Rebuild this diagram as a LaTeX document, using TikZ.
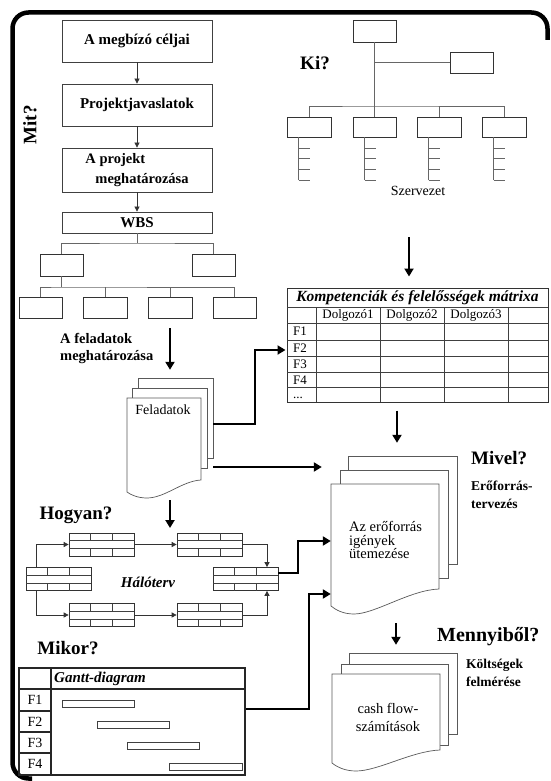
\documentclass[tikz,border=0pt]{standalone}
\usepackage{fontspec}
\setmainfont{Liberation Serif}
\usetikzlibrary{arrows.meta,calc}
\newcommand\fsz[2]{\fontsize{#1}{#2}\selectfont}
\newcommand\netnode[3]{\node[netbox] (#1) at (#2,#3) {};
 \draw[tline] (#2-32.5,#3-4) -- (#2+32.5,#3-4) (#2-32.5,#3+4) -- (#2+32.5,#3+4)
   (#2-11,#3-11.5) -- (#2-11,#3-4) (#2+11,#3-11.5) -- (#2+11,#3-4)
   (#2-11,#3+4) -- (#2-11,#3+11.5) (#2+11,#3+4) -- (#2+11,#3+11.5);}
\begin{document}
\begin{tikzpicture}[x=1pt,y=-1pt,
  bx/.style={draw=black!75, line width=0.8pt, fill=white, inner sep=0pt, font=\fsz{15}{18}\bfseries},
  obox/.style={draw=black!80, line width=0.7pt, fill=white, inner sep=0pt},
  orgline/.style={draw=black!60, line width=0.8pt},
  tline/.style={draw=black!75, line width=0.7pt},
  thinarr/.style={draw=black!80, line width=0.7pt, -{Triangle[length=5pt,width=5pt]}},
  bigarr/.style={draw=black, line width=2.6pt, -{Triangle[length=8pt,width=9pt]}},
  question/.style={font=\fsz{19}{22}\bfseries, inner sep=0pt},
  side/.style={font=\fsz{13.5}{18}\bfseries, align=left, inner sep=0pt},
  docline/.style={draw=black!65, line width=0.7pt},
  ghost/.style={inner sep=0pt, draw=none},
  netbox/.style={draw=black!80, line width=0.7pt, fill=white, minimum width=65pt, minimum height=23pt, inner sep=0pt},
  plain/.style={inner sep=0pt, font=\fsz{13}{15}},
]
\useasboundingbox (0,0) rectangle (550,781);
% frame
\draw[line width=4.5pt, rounded corners=16pt] (32,778.5) -- (12.5,778.5) -- (12.5,12.5) -- (547.5,12.5) -- (547.5,40);

% ---------- left column ----------
\node[question, rotate=90] (mit) at (30,125) {Mit?};
\node[bx, minimum width=150pt, minimum height=42pt] (g1) at (137,41) {A megbízó céljai};
\node[bx, minimum width=150pt, minimum height=42pt] (g2) at (137,105) {Projektjavaslatok};
\node[bx, minimum width=150pt, minimum height=44pt, align=left, font=\fsz{14.5}{20}\bfseries] (g3) at (137,170) {A projekt\\\hspace*{10pt}meghatározása};
\node[bx, minimum width=150pt, minimum height=21pt] (wbs) at (137,222.5) {WBS};
\draw[thinarr] (g1) -- (g2);
\draw[thinarr] (g2) -- (g3);
\draw[thinarr] (g3) -- (wbs);

\node[obox, minimum width=43pt, minimum height=22pt] (w21) at (61.5,265) {};
\node[obox, minimum width=43pt, minimum height=22pt] (w22) at (213.5,265) {};
\node[obox, minimum width=43pt, minimum height=21pt] (w31) at (40.5,307.5) {};
\node[obox, minimum width=44pt, minimum height=21pt] (w32) at (105,307.5) {};
\node[obox, minimum width=44pt, minimum height=21pt] (w33) at (170,307.5) {};
\node[obox, minimum width=43pt, minimum height=21pt] (w34) at (234.5,307.5) {};
\coordinate (wj) at (137,243);
\coordinate (wk) at (61.5,287);
\draw[orgline] (wbs.south) -- (wj);
\draw[orgline] (w21.north) |- (wj) -| (w22.north);
\draw[orgline] (w21.south) -- (wk);
\draw[orgline] (w31.north) |- (wk) -| (w34.north);
\draw[orgline] (w32.north) -- (w32.north |- wk);
\draw[orgline] (w33.north) -- (w33.north |- wk);

\node[side, font=\fsz{14.5}{17}\bfseries, anchor=west] (fam) at (60,348.5) {A feladatok\\meghatározása};

% ---------- org chart ----------
\node[question] (ki) at (315,63) {Ki?};
\node[obox, minimum width=43pt, minimum height=22pt] (o0) at (374.5,31) {};
\node[obox, minimum width=43pt, minimum height=21pt] (o1) at (471.5,62.5) {};
\node[obox, minimum width=44pt, minimum height=20pt] (o21) at (309,127) {};
\node[obox, minimum width=43pt, minimum height=20pt] (o22) at (374.5,127) {};
\node[obox, minimum width=44pt, minimum height=20pt] (o23) at (439,127) {};
\node[obox, minimum width=44pt, minimum height=20pt] (o24) at (504,127) {};
\coordinate (oj) at (374.5,106);
\draw[orgline] (o0.south) -- (o22.north);
\draw[orgline] (o1.west) -- (o1.west -| o0.south);
\draw[orgline] (o21.north) |- (oj) -| (o24.north);
\draw[orgline] (o23.north) -- (o23.north |- oj);
\foreach \b in {o21,o22,o23,o24} {
  \draw[orgline] ([xshift=12pt]\b.south west) -- ++(0,43);
  \foreach \t in {11,21,32,43}
    \draw[orgline] ([xshift=12pt]\b.south west) ++(0,\t) -- ++(11,0);
}
\node[plain, font=\fsz{14}{16}] (szerv) at (418,191) {Szervezet};

% ---------- matrix ----------
\node[draw=black!80, line width=1pt, minimum width=261pt, minimum height=114pt, inner sep=0pt] (mat) at (417.5,345) {};
\node[inner sep=0pt, font=\fsz{15.5}{17}\bfseries\itshape] (mtitle) at (417.5,297.5) {Kompetenciák és felelősségek mátrixa};
\foreach \y in {307,323,340,356,372,387} \draw[tline] (287,\y) -- (548,\y);
\foreach \x in {316,380,444,508} \draw[tline] (\x,307) -- (\x,402);
\node[plain] (d1) at (348,315.5) {Dolgozó1};
\node[plain] (d2) at (412,315.5) {Dolgozó2};
\node[plain] (d3) at (476,315.5) {Dolgozó3};
\node[plain, anchor=west] (mf1) at (293,331.5) {F1};
\node[plain, anchor=west] (mf2) at (293,348) {F2};
\node[plain, anchor=west] (mf3) at (293,364) {F3};
\node[plain, anchor=west] (mf4) at (293,380) {F4};
\node[plain, anchor=west] (mf5) at (293,398) {...};

\coordinate (oa) at (409,237);
\draw[bigarr, shorten >=11pt] (oa) -- (mat.north -| oa);

% ---------- Feladatok document ----------
\node[ghost, minimum width=86pt, minimum height=120pt] (feldoc) at (170,438) {};
\fill[white] (138,378) rectangle (213,458);
\draw[docline] (138,388) -- (138,378) -- (213,378) -- (213,458) -- (207,458);
\fill[white] (132,388) rectangle (207,468);
\draw[docline] (132,398) -- (132,388) -- (207,388) -- (207,468) -- (201,468);
\draw[docline, fill=white] (127,398) -- (201,398) -- (201,480) .. controls (182,481) and (165,498) .. (147,498) .. controls (138,498) and (131,495) .. (127,492) -- cycle;
\node[plain, font=\fsz{14}{16}] (feltxt) at (163,410) {Feladatok};

\coordinate (fa) at (170,328);
\draw[bigarr, shorten >=8pt] (fa) -- (feldoc.north);

% ---------- resource document ----------
\node[ghost, minimum width=126pt, minimum height=158pt] (resdoc) at (394,535) {};
\fill[white] (348,456) rectangle (457,564);
\draw[docline] (348,470) -- (348,456) -- (457,456) -- (457,564) -- (448,564);
\fill[white] (340,470) rectangle (448,578);
\draw[docline] (340,484) -- (340,470) -- (448,470) -- (448,578) -- (439,578);
\draw[docline, fill=white] (331,484) -- (439,484) -- (439,589) .. controls (410,590) and (375,614) .. (354,614) .. controls (343,614) and (336,610) .. (331,606) -- cycle;
\node[plain, font=\fsz{14.5}{15.5}, anchor=west] (restxt) at (349,542) {\begin{tabular}{@{}l@{}}Az erőforrás\\[-2pt]igények\\[-2pt]ütemezése\end{tabular}};
\node[question, anchor=west] (mivel) at (471,458) {Mivel?};
\node[side, anchor=north west] (eroterv) at (471,481) {Erőforrás-\\tervezés};

\draw[bigarr, shorten <=8pt, shorten >=13pt] (mat.south -| 397,0) -- (resdoc.north -| 397,0);
\draw[bigarr, shorten >=1pt] (feldoc.east |- 0,424) -| (255,350) -- (mat.west |- 0,350);
\draw[bigarr, shorten >=9pt] (feldoc.east |- 0,467) -- (resdoc.west |- 0,467);
\draw[bigarr, shorten <=2pt] (feldoc.south) -- (170,528);

% ---------- network ----------
\node[question] (hogyan) at (76,515) {Hogyan?};
\netnode{nL}{58.5}{579}
\netnode{nT1}{101.5}{544.5}
\netnode{nT2}{209.5}{544.5}
\netnode{nR}{245.5}{579}
\netnode{nB1}{101.5}{615}
\netnode{nB2}{209.5}{615}
\node[inner sep=0pt, font=\fsz{15}{17}\bfseries\itshape] (halo) at (148,582) {Hálóterv};
\draw[thinarr] (nL.north -| 36,0) |- (nT1.west);
\draw[thinarr] (nL.south -| 36,0) |- (nB1.west);
\draw[thinarr] (nT1) -- (nT2);
\draw[thinarr] (nB1) -- (nB2);
\draw[thinarr] (nT2.east) -| (nR.north -| 267,0);
\draw[thinarr] (nB2.east) -| (nR.south -| 267,0);
\draw[bigarr] (nR.east |- 0,573) -| (298,541) -- (resdoc.west |- 0,541);

% ---------- cost document ----------
\node[ghost, minimum width=125pt, minimum height=118pt] (costdoc) at (394.5,712) {};
\fill[white] (349,653) rectangle (457,734);
\draw[docline] (349,664) -- (349,653) -- (457,653) -- (457,734) -- (448,734);
\fill[white] (341,664) rectangle (448,745);
\draw[docline] (341,674) -- (341,664) -- (448,664) -- (448,745) -- (440,745);
\draw[docline, fill=white] (332,674) -- (440,674) -- (440,750) .. controls (412,751) and (378,771) .. (356,771) .. controls (345,771) and (337,767) .. (332,763) -- cycle;
\node[plain, font=\fsz{14.5}{18}, align=center] (costtxt) at (388,717) {cash flow-\\számítások};
\node[question, font=\fsz{20}{22}\bfseries, anchor=west] (menny) at (437,637) {Mennyiből?};
\node[side, anchor=north west] (koltseg) at (466,659) {Költségek\\felmérése};
\draw[bigarr, shorten <=9pt, shorten >=8pt] (resdoc.south -| 396,0) -- (costdoc.north -| 396,0);

% ---------- Gantt ----------
\node[question] (mikor) at (68,648) {Mikor?};
\node[draw=black!85, line width=1.3pt, minimum width=226pt, minimum height=107pt, inner sep=0pt] (gantt) at (132,721.5) {};
\draw[line width=1.3pt, black!85] (51,668) -- (51,775) (19,689) -- (245,689);
\draw[line width=1.1pt, black!85] (19,711) -- (51,711) (19,732) -- (51,732) (19,753) -- (51,753);
\node[inner sep=0pt, font=\fsz{15}{17}\bfseries\itshape, anchor=west] (ghead) at (54,679) {Gantt-diagram};
\node[plain, font=\fsz{14}{16}] (gf1) at (35,700) {F1};
\node[plain, font=\fsz{14}{16}] (gf2) at (35,721.5) {F2};
\node[plain, font=\fsz{14}{16}] (gf3) at (35,742.5) {F3};
\node[plain, font=\fsz{14}{16}] (gf4) at (35,764) {F4};
\draw[tline] (62,700) rectangle (134,707);
\draw[tline] (97,721.5) rectangle (169,728);
\draw[tline] (127,742.5) rectangle (199,749);
\draw[tline] (169,763) rectangle (242,770);
\draw[bigarr] (gantt.east |- 0,709) -| (309,594) -- (resdoc.west |- 0,594);
\end{tikzpicture}
\end{document}
